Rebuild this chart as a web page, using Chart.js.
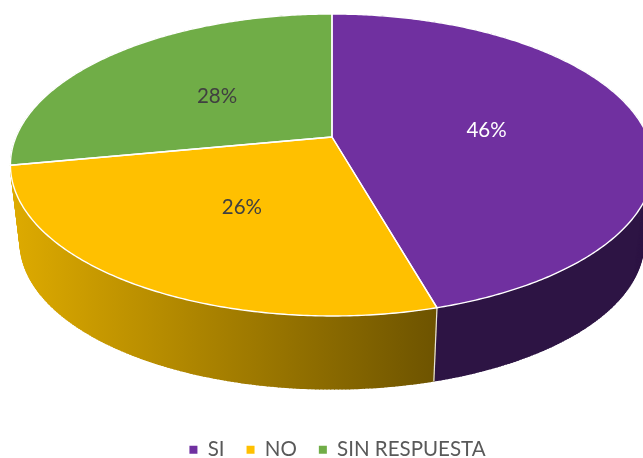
<!DOCTYPE html>
<html>
<head>
<meta charset="utf-8">
<style>html,body{margin:0;padding:0;background:#fff}#w{width:643px;height:458px;position:relative}</style>
<script src="https://cdn.jsdelivr.net/npm/chart.js@4"></script>
</head>
<body>
<div id="w"><canvas id="c" width="643" height="458"></canvas></div>
<script>
const categories = ['SI', 'NO', 'SIN RESPUESTA'];
const values = [45.6, 26.4, 28.0];
const faceColors = ['#7030A0', '#FFC000', '#70AD47'];
const labelColors = ['#FFFFFF', '#404040', '#404040'];

const view = { cx: 332, cy: 137, A: 316, B: 145.8, k: -0.1854, wallY: 216, wallScale: 0.97 };

function project(a, r, scale, cy) {
  const x = r * Math.cos(a), y = r * Math.sin(a), d = 1 + view.k * y;
  return [view.cx + scale * view.A * x / d, cy + scale * view.B * y / d];
}
function upper(a, r = 1) { return project(a, r, 1, view.cy); }
function lower(a) { return project(a, 1, view.wallScale, view.wallY); }
function arcPoints(fn, s, e) {
  const n = Math.max(2, Math.ceil(Math.abs(e - s) / 0.01)), p = [];
  for (let i = 0; i <= n; i++) p.push(fn(s + (e - s) * i / n));
  return p;
}

const pie3d = {
  id: 'pie3d',
  beforeDatasetDraw(chart) {
    const ctx = chart.ctx, arcs = chart.getDatasetMeta(0).data;
    const sum = values.reduce((a, b) => a + b, 0);
    ctx.save();
    // walls
    const grad = ctx.createLinearGradient(14, 0, 434, 0);
    grad.addColorStop(0, '#DDAA00');
    grad.addColorStop(1, '#6E5400');
    const wallFill = ['#2D1444', grad, '#46702C'];
    [2, 0, 1].forEach(i => {
      const s = arcs[i].startAngle, e = arcs[i].endAngle;
      const ups = arcPoints(upper, s, e), lows = arcPoints(lower, s, e);
      const pts = ups.concat(lows.slice().reverse());
      ctx.beginPath();
      pts.forEach((p, j) => j ? ctx.lineTo(p[0], p[1]) : ctx.moveTo(p[0], p[1]));
      ctx.closePath();
      ctx.fillStyle = wallFill[i];
      ctx.fill();
      // sweep the rim down to the lower rim, so the silhouette has no notch
      ctx.strokeStyle = wallFill[i];
      ctx.lineWidth = 1;
      ctx.beginPath();
      ups.forEach((p, j) => { ctx.moveTo(p[0], p[1]); ctx.lineTo(lows[j][0], lows[j][1]); });
      ctx.stroke();
    });
    // seam between walls
    const seam = arcs[0].endAngle, a = upper(seam), b = lower(seam);
    ctx.strokeStyle = '#E8E4DC';
    ctx.lineWidth = 1.2;
    ctx.beginPath(); ctx.moveTo(a[0], a[1]); ctx.lineTo(b[0], b[1]); ctx.stroke();
    // top faces
    arcs.forEach((arc, i) => {
      const pts = arcPoints(upper, arc.startAngle, arc.endAngle);
      ctx.beginPath();
      ctx.moveTo(view.cx, view.cy);
      pts.forEach(p => ctx.lineTo(p[0], p[1]));
      ctx.closePath();
      ctx.fillStyle = faceColors[i];
      ctx.fill();
    });
    arcs.forEach(arc => {
      const pts = arcPoints(upper, arc.startAngle, arc.endAngle);
      ctx.beginPath();
      ctx.moveTo(view.cx, view.cy);
      pts.forEach(p => ctx.lineTo(p[0], p[1]));
      ctx.closePath();
      ctx.strokeStyle = '#FFFFFF';
      ctx.lineWidth = 1.4;
      ctx.lineJoin = 'round';
      ctx.stroke();
    });
    // value labels
    ctx.font = '20.5px Lato';
    ctx.textAlign = 'center';
    ctx.textBaseline = 'middle';
    arcs.forEach((arc, i) => {
      const p = upper((arc.startAngle + arc.endAngle) / 2, 0.5);
      ctx.fillStyle = labelColors[i];
      ctx.fillText(Math.round(values[i] / sum * 100) + '%', p[0], p[1] + 3);
    });
    ctx.restore();
    return false;
  }
};

new Chart(document.getElementById('c'), {
  type: 'pie',
  data: {
    labels: categories,
    datasets: [{ data: values, backgroundColor: faceColors, borderWidth: 0 }]
  },
  options: {
    responsive: false,
    animation: false,
    events: [],
    layout: { padding: { left: 32, bottom: -12 } },
    plugins: {
      tooltip: { enabled: false },
      legend: {
        position: 'bottom',
        labels: {
          boxWidth: 8, boxHeight: 8, padding: 22,
          color: '#595959',
          font: { family: 'Lato', size: 20.5 }
        }
      }
    }
  },
  plugins: [pie3d]
});
</script>
</body>
</html>
